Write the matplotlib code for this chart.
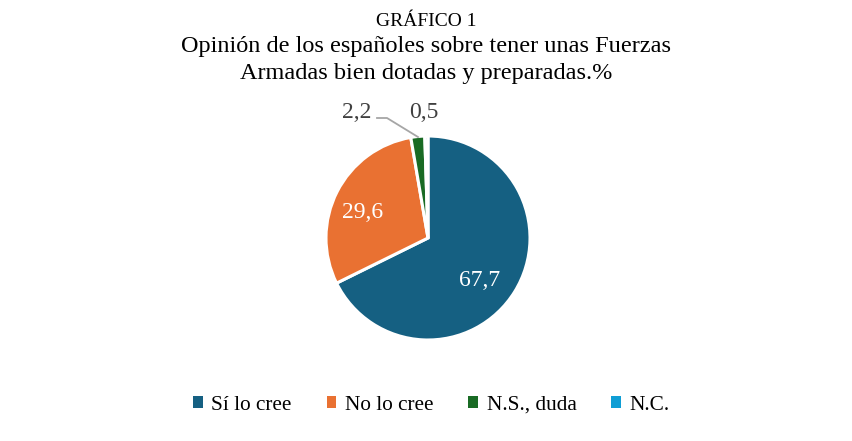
import matplotlib
matplotlib.use('Agg')
from matplotlib import pyplot as plt
from matplotlib.patches import Patch

plt.rcParams['font.family'] = ['Liberation Serif', 'DejaVu Serif']

# datos del gráfico
categorias = ['Sí lo cree', 'No lo cree', 'N.S., duda', 'N.C.']
valores = [67.7, 29.6, 2.2, 0.5]
etiquetas = ['67,7', '29,6', '2,2', '0,5']
colores = ['#156082', '#E97132', '#196B24', '#0F9ED5']

fig = plt.figure(figsize=(8.53, 4.41), dpi=100)
ax = fig.add_axes([0, 0, 1, 1])

cx, cy, r = 428, 203, 102
wedges, _ = ax.pie(valores, colors=colores, startangle=90, counterclock=False,
                   center=(cx, cy), radius=r, frame=True,
                   wedgeprops={'edgecolor': 'white', 'linewidth': 2.2})
ax.set_xlim(0, 853)
ax.set_ylim(0, 441)
ax.set_aspect('equal')
ax.axis('off')

# etiquetas de valor
ax.text(cx + 52, cy - 42, etiquetas[0], color='white', fontsize=17, ha='center', va='center')
ax.text(cx - 65, cy + 26, etiquetas[1], color='white', fontsize=17, ha='center', va='center')
ax.text(cx - 71, cy + 126, etiquetas[2], color='#404040', fontsize=17, ha='center', va='center')
ax.text(cx - 4, cy + 126, etiquetas[3], color='#404040', fontsize=17, ha='center', va='center')
ax.plot([cx - 51, cx - 41, cx - 10], [cy + 120, cy + 120, cy + 101], color='#A6A6A6', lw=1.3)

fig.text(0.5, 1 - 21 / 441, 'GRÁFICO 1', fontsize=14, ha='center', va='center')
fig.text(0.5, 1 - 60 / 441, 'Opinión de los españoles sobre tener unas Fuerzas\nArmadas bien dotadas y preparadas.%',
         fontsize=17.5, ha='center', va='center', linespacing=1.32)

handles = [Patch(facecolor=c, edgecolor='none') for c in colores]
fig.legend(handles, categorias, loc='center', bbox_to_anchor=(0.5 + 5 / 853, 1 - 405 / 441), ncol=4,
           frameon=False, fontsize=15.3, handlelength=0.45, handleheight=0.45,
           handletextpad=0.4, columnspacing=1.65)

fig.savefig('out.png', dpi=100)
